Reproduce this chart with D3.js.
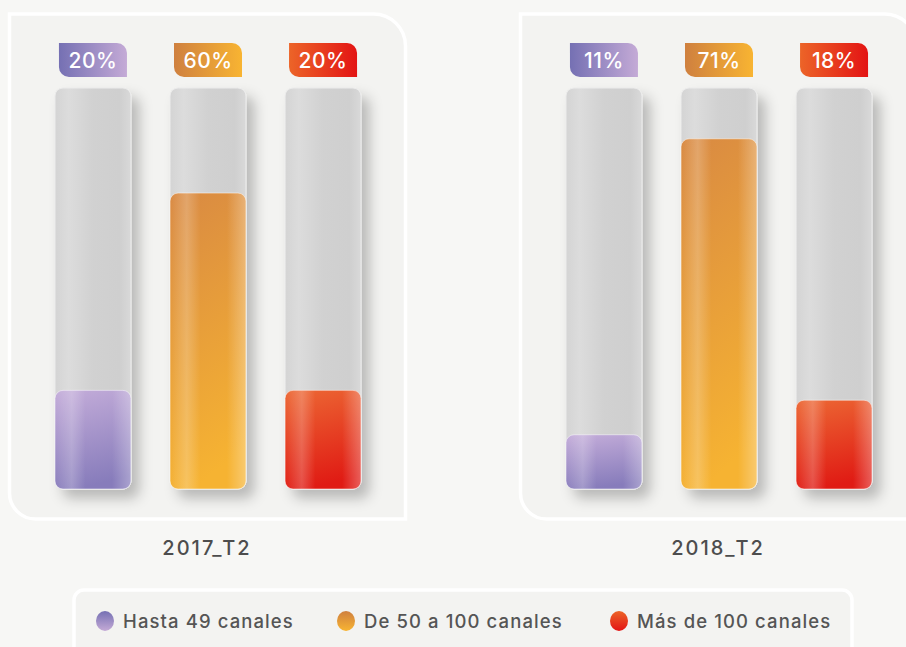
<!DOCTYPE html>
<html>
<head>
<meta charset="utf-8">
<script src="https://cdn.jsdelivr.net/npm/d3@7"></script>
<style>
  html, body { margin: 0; padding: 0; background: #f7f7f5; }
  svg { display: block; }
  text { font-family: Inter, "Open Sans", "Noto Sans", sans-serif; }
</style>
</head>
<body>
<div id="chart"></div>
<script>
// data
const periods = ["2017_T2", "2018_T2"];
const categories = ["Hasta 49 canales", "De 50 a 100 canales", "Más de 100 canales"];
const values2017 = [20, 60, 20];
const values2018 = [11, 71, 18];
const seriesByPeriod = [values2017, values2018];

const width = 906, height = 647;

// gradient colors per category (top, bottom, badge left, badge right)
const palette = [
    {top: "#c3acd9", bottom: "#877cbb", left: "#7570b3", right: "#c4aad6"},
    {top: "#d98a42", bottom: "#f6b332", left: "#cf803f", right: "#f8b432"},
    {top: "#ec6633", bottom: "#e01b14", left: "#ec6428", right: "#e31414"}
];

const svg = d3.select("#chart").append("svg")
    .attr("width", width)
    .attr("height", height);

const defs = svg.append("defs");

// soft shadow for the tracks
const shadow = defs.append("filter")
    .attr("id", "shadow")
    .attr("x", "-30%").attr("y", "-10%")
    .attr("width", "180%").attr("height", "130%");
shadow.append("feDropShadow")
    .attr("dx", 8).attr("dy", 9)
    .attr("stdDeviation", 6.5)
    .attr("flood-color", "#000")
    .attr("flood-opacity", 0.24);

// track gradient
const trackGrad = defs.append("linearGradient")
    .attr("id", "trackGrad").attr("x1", 0).attr("x2", 1).attr("y1", 0).attr("y2", 0);
[[0, "#d4d4d4"], [0.18, "#dcdcdc"], [0.5, "#d1d1d1"], [0.85, "#cfcfcf"], [1, "#d9d9d9"]]
    .forEach(s => trackGrad.append("stop").attr("offset", s[0]).attr("stop-color", s[1]));

// highlight overlay for the value bars
const shine = defs.append("linearGradient")
    .attr("id", "shine").attr("x1", 0).attr("x2", 1).attr("y1", 0).attr("y2", 0);
[[0, 0.0], [0.22, 0.22], [0.4, 0.0], [0.75, 0.0], [1, 0.3]]
    .forEach(s => shine.append("stop").attr("offset", s[0])
        .attr("stop-color", "#fff").attr("stop-opacity", s[1]));

palette.forEach((c, i) => {
    const g = defs.append("linearGradient")
        .attr("id", "bar" + i).attr("x1", 0.1).attr("x2", 0.3).attr("y1", 0).attr("y2", 1);
    g.append("stop").attr("offset", 0).attr("stop-color", c.top);
    g.append("stop").attr("offset", 1).attr("stop-color", c.bottom);

    const b = defs.append("linearGradient")
        .attr("id", "badge" + i).attr("x1", 0).attr("x2", 1).attr("y1", 0).attr("y2", 0);
    b.append("stop").attr("offset", 0).attr("stop-color", c.left);
    b.append("stop").attr("offset", 1).attr("stop-color", c.right);

    const l = defs.append("linearGradient")
        .attr("id", "leg" + i).attr("x1", 0).attr("x2", 0).attr("y1", 0).attr("y2", 1);
    l.append("stop").attr("offset", 0).attr("stop-color", c.left);
    l.append("stop").attr("offset", 1).attr("stop-color", c.right);
});

// scales
const xPeriod = d3.scaleBand()
    .domain(periods)
    .range([7, 7 + 511 * periods.length])
    .paddingInner(0);

const xCat = d3.scaleBand()
    .domain(categories)
    .range([48, 354])
    .paddingInner(0.34)
    .paddingOuter(0);

const trackTop = 88, trackBottom = 489;
const y = d3.scaleLinear()
    .domain([0, 81.3])
    .range([trackBottom, trackTop]);

// panel outline: square top-left/bottom-right, rounded top-right/bottom-left
function panelPath(x0, y0, w, h, rTR, rBL) {
    const x1 = x0 + w, y1 = y0 + h;
    return `M${x0},${y0} H${x1 - rTR} A${rTR},${rTR} 0 0 1 ${x1},${y0 + rTR}
            V${y1} H${x0 + rBL} A${rBL},${rBL} 0 0 1 ${x0},${y1 - rBL} Z`;
}

// badge: rounded top-right and bottom-left
function badgePath(x0, y0, w, h, r) {
    const x1 = x0 + w, y1 = y0 + h;
    return `M${x0},${y0} H${x1 - r} A${r},${r} 0 0 1 ${x1},${y0 + r}
            V${y1} H${x0 + r} A${r},${r} 0 0 1 ${x0},${y1 - r} Z`;
}

const panels = svg.selectAll(".panel")
    .data(periods)
    .enter()
    .append("g")
    .attr("class", "panel")
    .attr("transform", d => `translate(${xPeriod(d)},0)`);

panels.append("path")
    .attr("d", panelPath(2.5, 14, 396, 505, 32, 26))
    .attr("fill", "#f3f3f1")
    .attr("stroke", "#ffffff")
    .attr("stroke-width", 3.5);

panels.each(function(period, pi) {
    const g = d3.select(this);
    const vals = seriesByPeriod[pi];
    const rows = categories.map((c, i) => ({cat: c, value: vals[i], idx: i}));
    const bw = xCat.bandwidth();

    const cols = g.selectAll(".col")
        .data(rows)
        .enter()
        .append("g")
        .attr("class", "col");

    // background track
    cols.append("rect")
        .attr("x", d => xCat(d.cat))
        .attr("y", trackTop)
        .attr("width", bw)
        .attr("height", trackBottom - trackTop)
        .attr("rx", 8)
        .attr("fill", "url(#trackGrad)")
        .attr("stroke", "#ebebeb")
        .attr("stroke-width", 1)
        .attr("filter", "url(#shadow)");

    // value bar
    cols.append("rect")
        .attr("x", d => xCat(d.cat))
        .attr("y", d => y(d.value))
        .attr("width", bw)
        .attr("height", d => y(0) - y(d.value))
        .attr("rx", 8)
        .attr("fill", d => `url(#bar${d.idx})`);

    cols.append("rect")
        .attr("x", d => xCat(d.cat))
        .attr("y", d => y(d.value))
        .attr("width", bw)
        .attr("height", d => y(0) - y(d.value))
        .attr("rx", 8)
        .attr("fill", "url(#shine)")
        .attr("stroke", "#ffffff")
        .attr("stroke-opacity", 0.5)
        .attr("stroke-width", 1);

    // value badge
    cols.append("path")
        .attr("d", d => badgePath(xCat(d.cat) + bw / 2 - 34, 43, 68, 34, 10))
        .attr("fill", d => `url(#badge${d.idx})`);

    cols.append("text")
        .attr("x", d => xCat(d.cat) + bw / 2)
        .attr("y", 68)
        .attr("text-anchor", "middle")
        .attr("fill", "#ffffff")
        .attr("font-size", 21)
        .attr("font-weight", 500)
        .attr("letter-spacing", 0.5)
        .text(d => d.value + "%");

    // period label
    g.append("text")
        .attr("x", 200)
        .attr("y", 555)
        .attr("text-anchor", "middle")
        .attr("fill", "#4d4d4d")
        .attr("font-size", 20)
        .attr("font-weight", 500)
        .attr("letter-spacing", 2)
        .text(period);
});

// legend
const legend = svg.append("g").attr("class", "legend");
legend.append("rect")
    .attr("x", 74).attr("y", 590)
    .attr("width", 778).attr("height", 80)
    .attr("rx", 10)
    .attr("fill", "#f3f3f1")
    .attr("stroke", "#ffffff")
    .attr("stroke-width", 3.5);

const legendX = d3.scaleOrdinal()
    .domain(categories)
    .range([105, 346, 619]);

const items = legend.selectAll(".item")
    .data(categories)
    .enter()
    .append("g")
    .attr("class", "item")
    .attr("transform", d => `translate(${legendX(d)},621)`);

items.append("ellipse")
    .attr("rx", 9).attr("ry", 10)
    .attr("fill", (d, i) => `url(#leg${i})`);

items.append("text")
    .attr("x", 18)
    .attr("y", 7)
    .attr("fill", "#555555")
    .attr("font-size", 18.5)
    .attr("font-weight", 500)
    .attr("letter-spacing", 1.1)
    .text(d => d);
</script>
</body>
</html>
